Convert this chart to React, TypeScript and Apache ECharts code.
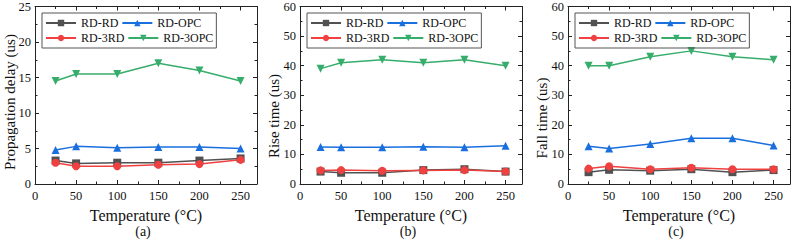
import React, { useEffect, useRef } from "react";
import * as echarts from "echarts";

const temps = [25, 50, 100, 150, 200, 250];
const xTickValues = [0, 50, 100, 150, 200, 250];
const seriesNames = ["RD-RD", "RD-OPC", "RD-3RD", "RD-3OPC"];
const colors = ["#515151", "#1A6FDF", "#F14040", "#37AD6B"];
const symbols = ["rect", "triangle", "circle", "triangle"];
const rotations = [0, 0, 0, 180];

// (a) Propagation delay
const propRDRD = [3.3, 2.9, 3.0, 3.0, 3.3, 3.6];
const propRDOPC = [4.8, 5.3, 5.1, 5.2, 5.2, 5.0];
const propRD3RD = [3.0, 2.5, 2.5, 2.7, 2.8, 3.4];
const propRD3OPC = [14.5, 15.5, 15.5, 17.0, 16.0, 14.5];

// (b) Rise time
const riseRDRD = [4.2, 3.8, 3.8, 4.7, 5.0, 4.2];
const riseRDOPC = [12.5, 12.4, 12.4, 12.6, 12.4, 12.9];
const riseRD3RD = [4.6, 4.7, 4.5, 4.6, 4.7, 4.2];
const riseRD3OPC = [39, 41, 42, 41, 42, 40];

// (c) Fall time
const fallRDRD = [4.0, 4.8, 4.5, 5.0, 4.0, 4.7];
const fallRDOPC = [12.8, 12.0, 13.5, 15.5, 15.5, 13.0];
const fallRD3RD = [5.2, 6.0, 5.0, 5.5, 5.0, 5.0];
const fallRD3OPC = [40, 40, 43, 45, 43, 42];

const panelTitles = ["Propagation delay (us)", "Rise time (us)", "Fall time (us)"];
const panelLabels = ["(a)", "(b)", "(c)"];
const yMax = [25, 60, 60];
const yInterval = [5, 10, 10];
const xMax = 270;
const xInterval = 50;
const panelData = [
  [propRDRD, propRDOPC, propRD3RD, propRD3OPC],
  [riseRDRD, riseRDOPC, riseRD3RD, riseRD3OPC],
  [fallRDRD, fallRDOPC, fallRD3RD, fallRD3OPC],
];

const FONT = "'Liberation Serif', 'Times New Roman', serif";
const gridLefts = [35, 300, 568];
const gridWidth = 222;
const gridTop = 5;
const gridHeight = 179;
const yTitleX = [10, 274, 542];
const yTitleY = [102, 116, 118];

export default function App() {
  const ref = useRef<HTMLDivElement>(null);
  useEffect(() => {
    if (!ref.current) return;
    const chart = echarts.init(ref.current, undefined, { renderer: "svg" });
    const axisLine = { show: true, onZero: false, lineStyle: { color: "#222", width: 1 } };
    const tick = { show: true, inside: true, length: 4, lineStyle: { color: "#222" } };
    const minor = { show: true, splitNumber: 2, length: 2.5, lineStyle: { color: "#222" } };
    const grids: any[] = [];
    const xAxes: any[] = [];
    const yAxes: any[] = [];
    const series: any[] = [];
    const legends: any[] = [];
    const graphics: any[] = [];
    for (let p = 0; p < 3; p++) {
      grids.push({ left: gridLefts[p], top: gridTop, width: gridWidth, height: gridHeight });
      legends.push({
        data: seriesNames,
        left: gridLefts[p] + 7,
        top: gridTop + 8,
        width: 180,
        orient: "horizontal",
        itemWidth: 30,
        itemHeight: 8,
        itemGap: 3,
        padding: [4, 3, 4, 3],
        borderColor: "#555",
        borderWidth: 1,
        textStyle: { fontFamily: FONT, fontSize: 12, color: "#111" },
      });
    }
    for (let p = 0; p < 3; p++) {
      xAxes.push({
        type: "value",
        gridIndex: p,
        position: "bottom",
        min: 0,
        max: xMax,
        interval: xInterval,
        name: "Temperature (°C)",
        nameLocation: "middle",
        nameGap: 18,
        nameTextStyle: { fontFamily: FONT, fontSize: 16, color: "#111", lineHeight: 16 },
        axisLine,
        axisTick: tick,
        minorTick: minor,
        splitLine: { show: false },
        axisLabel: {
          fontFamily: FONT,
          fontSize: 12.5,
          color: "#111",
          margin: 6,
          lineHeight: 12,
          customValues: xTickValues,
          showMinLabel: true,
          hideOverlap: false,
        },
      });
      yAxes.push({
        type: "value",
        gridIndex: p,
        position: "left",
        min: 0,
        max: yMax[p],
        interval: yInterval[p],
        axisLine,
        axisTick: tick,
        minorTick: minor,
        splitLine: { show: false },
        axisLabel: {
          fontFamily: FONT,
          fontSize: 12.5,
          color: "#111",
          margin: 4,
          lineHeight: 12,
          showMinLabel: true,
          hideOverlap: false,
        },
      });
    }
    for (let p = 0; p < 3; p++) {
      xAxes.push({
        type: "value",
        gridIndex: p,
        position: "top",
        min: 0,
        max: xMax,
        interval: xInterval,
        axisLine,
        axisTick: tick,
        minorTick: minor,
        splitLine: { show: false },
        axisLabel: { show: false },
      });
      yAxes.push({
        type: "value",
        gridIndex: p,
        position: "right",
        min: 0,
        max: yMax[p],
        interval: yInterval[p],
        axisLine,
        axisTick: tick,
        minorTick: minor,
        splitLine: { show: false },
        axisLabel: { show: false },
      });
    }
    for (let p = 0; p < 3; p++) {
      for (let s = 0; s < 4; s++) {
        series.push({
          type: "line",
          name: seriesNames[s],
          xAxisIndex: p,
          yAxisIndex: p,
          data: temps.map((t, i) => [t, panelData[p][s][i]]),
          symbol: symbols[s],
          symbolRotate: rotations[s],
          symbolSize: 8,
          color: colors[s],
          lineStyle: { width: 1.5, color: colors[s] },
          itemStyle: { color: colors[s] },
        });
      }
      graphics.push({
        type: "text",
        x: gridLefts[p] + gridWidth / 2 - 3,
        y: 231,
        style: {
          text: panelLabels[p],
          fontFamily: FONT,
          fontSize: 14,
          fill: "#111",
          align: "center",
          verticalAlign: "middle",
        },
      });
      graphics.push({
        type: "text",
        x: yTitleX[p],
        y: yTitleY[p],
        rotation: Math.PI / 2,
        style: {
          text: panelTitles[p],
          fontFamily: FONT,
          fontSize: 15,
          fill: "#111",
          align: "center",
          verticalAlign: "middle",
        },
      });
    }
    chart.setOption({
      animation: false,
      backgroundColor: "#fff",
      grid: grids,
      xAxis: xAxes,
      yAxis: yAxes,
      legend: legends,
      series,
      graphic: graphics,
    });
    return () => chart.dispose();
  }, []);
  return (
    <div
      ref={ref}
      style={{ position: "absolute", left: 0, top: 0, width: 793, height: 240 }}
    />
  );
}
